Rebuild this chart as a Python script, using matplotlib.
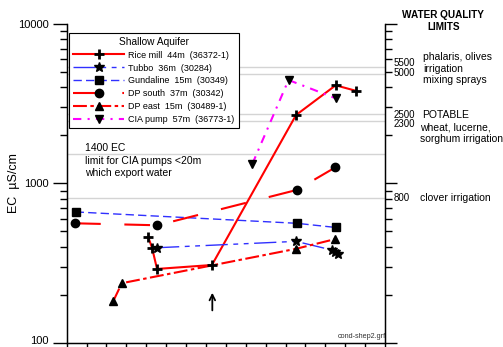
import matplotlib
matplotlib.use("Agg")
import matplotlib.pyplot as plt
import matplotlib.transforms as mtransforms
from matplotlib.lines import Line2D
from matplotlib.ticker import LogLocator, NullFormatter, FixedFormatter, FixedLocator

plt.rcParams['font.family'] = ['Liberation Sans', 'DejaVu Sans']
plt.rcParams['lines.scale_dashes'] = False

# ---------------- data ----------------
rice_x = [4.09, 4.29, 4.54, 7.30, 11.53, 13.52, 14.52]
rice_y = [462, 394, 290, 307, 2684, 4122, 3813]

tubbo_x = [4.54, 11.53, 13.34, 13.49, 13.64]
tubbo_y = [394, 432, 381, 369, 360]

gund_x = [0.45, 11.56, 13.54]
gund_y = [661, 561, 528]

dps_x = [0.42, 4.56, 11.56, 13.51]
dps_y = [561, 545, 908, 1260]

dpe_x = [2.34, 2.77, 11.53, 13.51]
dpe_y = [182, 236, 388, 447]

cia_x = [9.33, 11.15, 13.52]
cia_y = [1322, 4450, 3417]

limit_lines = [5370, 4856, 2722, 2461, 1521, 805]
limit_labels = ["5500", "5000", "2500", "2300", "800"]
limit_label_y = [5689, 4921, 2682, 2356, 805]

legend_labels = ["Rice mill  44m  (36372-1)", "Tubbo  36m  (30284)",
                 "Gundaline  15m  (30349)", "DP south  37m  (30342)",
                 "DP east  15m  (30489-1)", "CIA pump  57m  (36773-1)"]

arrow_x = 7.32
arrow_from = 153
arrow_to = 214

W, H = 503, 347
fig = plt.figure(figsize=(W / 100, H / 100), dpi=100)
L, R, T, B = 66.7, 385.0, 24.0, 342.6
ax = fig.add_axes([L / W, 1 - B / H, (R - L) / W, (B - T) / H])


def px(x, y):
    return x / W, 1 - y / H


ax.set_yscale('log')
ax.set_ylim(100, 10000)
ax.set_xlim(0, 16)
ax.set_xticks(range(0, 17))
ax.set_xticklabels([])
ax.spines['top'].set_visible(False)
ax.spines['right'].set_visible(True)
for s in ax.spines.values():
    s.set_linewidth(1.0)

ax.yaxis.set_major_locator(FixedLocator([100, 1000, 10000]))
ax.yaxis.set_major_formatter(FixedFormatter(["100", "1000", "10000"]))
ax.yaxis.set_minor_locator(LogLocator(base=10, subs=range(2, 10)))
ax.yaxis.set_minor_formatter(NullFormatter())
ax.tick_params(axis='y', which='major', direction='out', length=10, width=1, labelsize=8, pad=3)
ax.tick_params(axis='y', which='minor', direction='out', length=5, width=1)
ax.tick_params(axis='x', which='major', direction='out', length=6, width=1)

ax2 = ax.twinx()
ax2.set_yscale('log')
ax2.set_ylim(100, 10000)
ax2.spines['top'].set_visible(False)
ax2.yaxis.set_major_locator(FixedLocator([100, 1000, 10000]))
ax2.yaxis.set_major_formatter(NullFormatter())
ax2.yaxis.set_minor_locator(LogLocator(base=10, subs=range(2, 10)))
ax2.yaxis.set_minor_formatter(NullFormatter())
ax2.tick_params(axis='y', which='major', direction='out', length=8.5, width=1)
ax2.tick_params(axis='y', which='minor', direction='out', length=5, width=1)

ax.set_ylabel("EC  µS/cm", fontsize=9)
ax.yaxis.set_label_coords(-(L - 19.5) / (R - L), 0.5)

for v in limit_lines:
    ax.axhline(v, color='#d4d4d4', lw=1.0, zorder=0.5)

RED = '#ff0000'
BLUE = '#3030ff'
MAG = '#ff00ff'

styles = [
    dict(color=RED, lw=1.5, ls='-', marker='+', ms=7, mew=2),
    dict(color=BLUE, lw=1.0, ls=(0, (16, 4, 3.5, 4, 3.5, 4)), marker='*', ms=7),
    dict(color=BLUE, lw=1.0, ls=(0, (6, 3)), marker='s', ms=5.8),
    dict(color=RED, lw=1.5, ls=(0, (18.5, 17)), marker='o', ms=6),
    dict(color=RED, lw=1.5, ls=(0, (10, 2.5, 2.5, 2.5)), marker='^', ms=6),
    dict(color=MAG, lw=1.5, ls=(0, (6, 4.5, 1.5, 4.5)), marker='v', ms=6),
]
series = [(rice_x, rice_y), (tubbo_x, tubbo_y), (gund_x, gund_y),
          (dps_x, dps_y), (dpe_x, dpe_y), (cia_x, cia_y)]

handles = []
for (xs, ys), st in zip(series, styles):
    ax.plot(xs, ys, color=st['color'], lw=st['lw'], ls=st['ls'], zorder=2)
    ax.plot(xs, ys, ls='none', marker=st['marker'], ms=st['ms'],
            mew=st.get('mew', 1), color='black', mec='black', zorder=3)
    handles.append(Line2D([], [], color=st['color'], lw=st['lw'], ls=st['ls'],
                          marker=st['marker'], ms=st['ms'], mew=st.get('mew', 1),
                          mfc='black', mec='black'))

leg = ax.legend(handles, legend_labels, title="Shallow Aquifer",
                loc='upper left', bbox_to_anchor=((69.3 - L) / (R - L), (B - 32.7) / (B - T)),
                borderaxespad=0, fontsize=6.5, title_fontsize=7.3, numpoints=1,
                handlelength=5.6, handletextpad=0.5, labelspacing=0.43,
                fancybox=False, framealpha=1, edgecolor='black', borderpad=0.45)
leg.get_frame().set_linewidth(0.8)
leg.set_zorder(5)

ax.annotate("", xy=(arrow_x, arrow_to), xytext=(arrow_x, arrow_from),
            arrowprops=dict(arrowstyle='->', color='black', lw=1.3,
                            mutation_scale=10))

ax.text(1.003, 0.018, "cond-shep2.grf", transform=ax.transAxes, fontsize=5.2,
        ha='right', va='center', color='#333333')

# nudge the bottom tick label so it stays inside the figure
fig.canvas.draw()
for lbl in ax.get_yticklabels():
    if lbl.get_text() == "100":
        lbl.set_transform(lbl.get_transform() +
                          mtransforms.ScaledTranslation(0, 2.5 / 100, fig.dpi_scale_trans))

# annotation texts
fig.text(*px(85, 148), "1400 EC", fontsize=7.5, va='center', ha='left')
fig.text(*px(85, 161), "limit for CIA pumps <20m", fontsize=7.5, va='center', ha='left')
fig.text(*px(85, 173), "which export water", fontsize=7.5, va='center', ha='left')

# right side texts
fig.text(*px(443, 15.5), "WATER QUALITY", fontsize=7.2, fontweight='bold', ha='center', va='center')
fig.text(*px(443.5, 27), "LIMITS", fontsize=7.2, fontweight='bold', ha='center', va='center')

trans = mtransforms.blended_transform_factory(fig.transFigure, ax.transData)
for lab, yv in zip(limit_labels, limit_label_y):
    ax.text(394 / W, yv, lab, transform=trans, fontsize=7.0, ha='left', va='center', clip_on=False)

fig.text(*px(423, 57), "phalaris, olives", fontsize=7.5, va='center')
fig.text(*px(423, 68.5), "irrigation", fontsize=7.5, va='center')
fig.text(*px(423, 80), "mixing sprays", fontsize=7.5, va='center')
fig.text(*px(422, 115), "POTABLE", fontsize=7.5, va='center')
fig.text(*px(420, 127), "wheat, lucerne,", fontsize=7.5, va='center')
fig.text(*px(420, 138.5), "sorghum irrigation", fontsize=7.5, va='center')
fig.text(*px(420.5, 198), "clover irrigation", fontsize=7.5, va='center')

fig.savefig("out.png", dpi=100)
